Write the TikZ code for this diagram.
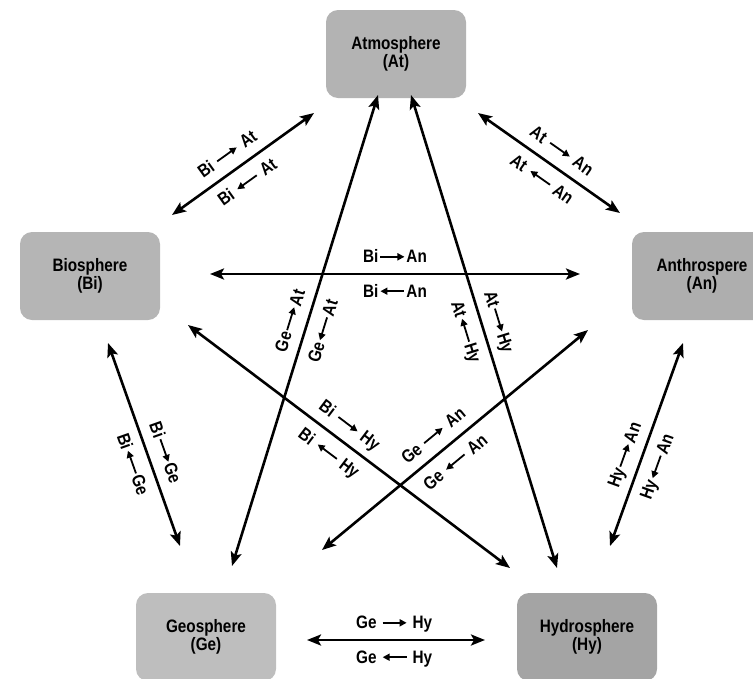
\documentclass[tikz,border=0pt]{standalone}
\usepackage{fontspec}
\setmainfont[FakeStretch=0.85]{Liberation Sans}
\usetikzlibrary{arrows.meta}
\newcommand\myrarr{\kern2pt\tikz[x=1pt,y=1pt,baseline=0pt]{\path[use as bounding box] (0,0) rectangle (24,12);
  \draw[line width=1.8pt,-{Triangle[length=7pt,width=7pt]}] (0,6) -- (24,6);}\kern2pt}
\newcommand\mylarr{\kern2pt\tikz[x=1pt,y=1pt,baseline=0pt]{\path[use as bounding box] (0,0) rectangle (24,12);
  \draw[line width=1.8pt,{Triangle[length=7pt,width=7pt]}-] (0,6) -- (24,6);}\kern2pt}
\newcommand\wsp{\kern4pt}
\definecolor{cAt}{HTML}{B3B3B3}
\definecolor{cBi}{HTML}{B5B5B5}
\definecolor{cAn}{HTML}{AEAEAE}
\definecolor{cGe}{HTML}{BEBEBE}
\definecolor{cHy}{HTML}{A4A4A4}
\begin{document}
\begin{tikzpicture}[x=1pt,y=-1pt,
  sphere/.style={rounded corners=12pt, minimum width=140pt, minimum height=88pt,
    align=center, inner sep=0pt, font=\fontsize{18}{18}\selectfont\bfseries},
  link/.style={line width=2.6pt,
    {Stealth[length=14pt,width=11pt,inset=3pt]}-{Stealth[length=14pt,width=11pt,inset=3pt]}},
  lab/.style={font=\fontsize{18}{18}\selectfont\bfseries, sloped,
    inner sep=11pt, text height=12pt, text depth=0pt}
]
\useasboundingbox (0,0) rectangle (753,678);
% boxes
\node[sphere, fill=cAt] (at) at (396,54) {Atmosphere\\(At)};
\node[sphere, fill=cBi] (bi) at (90,276) {Biosphere\\(Bi)};
\node[sphere, fill=cAn] (an) at (702,276) {Anthrospere\\(An)};
\node[sphere, fill=cGe] (ge) at (206,637) {Geosphere\\(Ge)};
\node[sphere, fill=cHy] (hy) at (587,637) {Hydrosphere\\(Hy)};
% connector end points
\coordinate (biat1) at (172,215);  \coordinate (biat2) at (314,113);
\coordinate (atan1) at (478,113);  \coordinate (atan2) at (620,213);
\coordinate (bian1) at (210,274);  \coordinate (bian2) at (580,274);
\coordinate (bige1) at (108,343);  \coordinate (bige2) at (180,546);
\coordinate (hyan1) at (610,546);  \coordinate (hyan2) at (683,343);
\coordinate (gehy1) at (307,640);  \coordinate (gehy2) at (485,640);
\coordinate (geat1) at (232,566);  \coordinate (geat2) at (378,95);
\coordinate (athy1) at (411,95);   \coordinate (athy2) at (557,568);
\coordinate (bihy1) at (188,325);  \coordinate (bihy2) at (510,568);
\coordinate (gean1) at (322,550);  \coordinate (gean2) at (588,330);
% connectors
\draw[link] (biat1) -- node[lab,above,pos=0.46]{Bi\wsp\myrarr\wsp At} node[lab,below,pos=0.46]{Bi\wsp\mylarr\wsp At} (biat2);
\draw[link] (atan1) -- node[lab,above,pos=0.52]{At\wsp\myrarr\wsp An} node[lab,below,pos=0.52]{At\wsp\mylarr\wsp An} (atan2);
\draw[link] (bian1) -- node[lab,above,pos=0.5]{Bi\myrarr An} node[lab,below,pos=0.5]{Bi\mylarr An} (bian2);
\draw[link] (bige1) -- node[lab,above,pos=0.57]{Bi\myrarr Ge} node[lab,below,pos=0.57]{Bi\mylarr Ge} (bige2);
\draw[link] (hyan1) -- node[lab,above,pos=0.42]{Hy\myrarr An} node[lab,below,pos=0.42]{Hy\mylarr An} (hyan2);
\draw[link] (gehy1) -- node[lab,above,pos=0.49]{Ge\wsp\myrarr\wsp Hy} node[lab,below,pos=0.49]{Ge\wsp\mylarr\wsp Hy} (gehy2);
\draw[link] (geat1) -- node[lab,above,pos=0.51]{Ge\myrarr At} node[lab,below,pos=0.51]{Ge\mylarr At} (geat2);
\draw[link] (athy1) -- node[lab,above,pos=0.49]{At\myrarr Hy} node[lab,below,pos=0.49]{At\mylarr Hy} (athy2);
\draw[link] (bihy1) -- node[lab,above,pos=0.47]{Bi\wsp\myrarr\wsp Hy} node[lab,below,pos=0.47]{Bi\wsp\mylarr\wsp Hy} (bihy2);
\draw[link] (gean1) -- node[lab,above,pos=0.46]{Ge\wsp\myrarr\wsp An} node[lab,below,pos=0.46]{Ge\wsp\mylarr\wsp An} (gean2);
\end{tikzpicture}
\end{document}
